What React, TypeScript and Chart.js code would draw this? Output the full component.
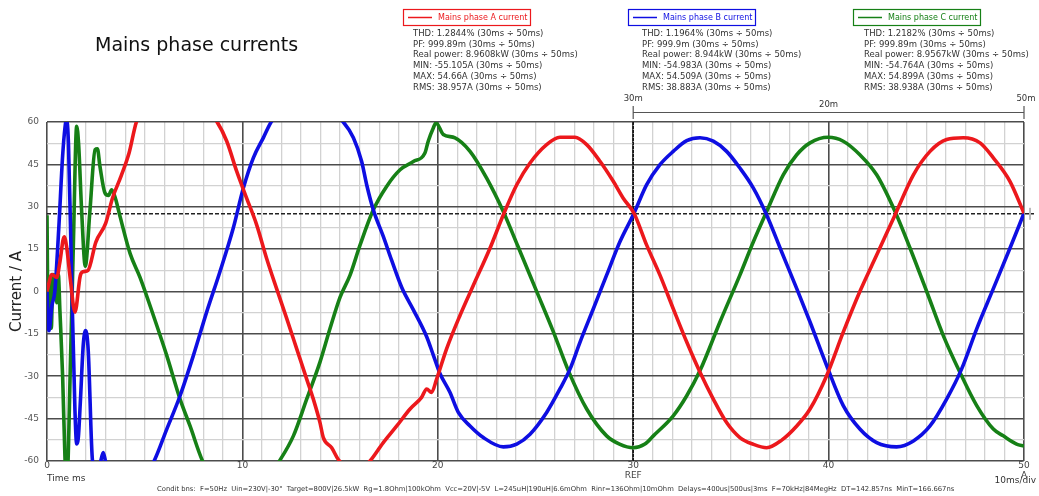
import React, { useEffect, useRef } from 'react';
import { Chart, registerables } from 'chart.js';

Chart.register(...registerables);

// Sample times (ms) and phase currents (A), phase A
const phaseATime = [0, 0.25, 0.5, 0.65, 0.88, 1.0, 1.2, 1.43, 1.7, 1.85, 2.1, 2.5, 3.0, 3.35, 3.8, 4.2, 4.59, 5.3, 6.0, 6.8, 7.6, 8.2, 8.68, 9.2, 9.71, 10.22, 10.73, 11.24, 11.75, 12.27, 12.78, 13.29, 13.63, 13.97, 14.14, 14.57, 14.9, 15.3, 15.8, 16.2, 16.53, 17.21, 17.9, 18.58, 19.17, 19.43, 19.68, 19.94, 20.45, 21.14, 21.82, 22.67, 23.35, 24.04, 24.72, 25.57, 26.25, 27.02, 27.62, 28.3, 28.98, 29.49, 30.04, 30.69, 31.37, 32.05, 32.74, 33.42, 34.1, 34.78, 35.46, 36.15, 36.83, 37.6, 38.37, 39.05, 39.9, 40.75, 41.6, 42.46, 43.4, 44.34, 45.19, 46.04, 46.89, 47.75, 48.43, 49.28, 50];
const phaseACurrent = [0, 6, 5, 10, 19.4, 16, 4, -7.3, 5.5, 7, 7.5, 17.5, 24.1, 33, 41, 49, 60.3, 66, 70, 71, 68, 64, 60.3, 53.2, 42.5, 33, 23.6, 11.7, 1, -9.6, -20.3, -31, -38.1, -46.4, -51.7, -55.3, -59.4, -62, -63, -62, -60, -53.5, -47.6, -41.6, -37.5, -34.5, -35.7, -31, -20.3, -8.4, 2.2, 15.3, 27.1, 37.8, 45.5, 52, 54.6, 54.6, 52, 46.1, 39, 33, 27.7, 16.4, 5.8, -6.1, -17.9, -28.6, -38.1, -46.4, -51.7, -54.1, -55.3, -52.6, -47.6, -41.6, -29.8, -14.4, 0, 12.9, 27.1, 41.3, 49.6, 53.8, 54.4, 52.6, 47.3, 39, 27.7];

// Phase B
const phaseBTime = [0, 0.1, 0.25, 0.4, 0.6, 0.8, 0.92, 1.0, 1.1, 1.26, 1.43, 1.52, 1.6, 1.7, 1.86, 1.98, 2.11, 2.33, 2.5, 2.71, 2.88, 3.02, 3.4, 4.2, 4.9, 5.44, 6.13, 6.81, 7.49, 8.17, 8.85, 9.53, 10.05, 10.56, 11.07, 11.5, 12.3, 13.2, 14.2, 15.16, 15.68, 16.1, 16.36, 16.7, 17.21, 17.64, 18.15, 18.75, 19.43, 19.77, 20.11, 20.62, 21.05, 21.65, 22.33, 23.35, 24.04, 24.72, 25.57, 26.25, 26.77, 27.28, 27.96, 28.64, 29.32, 30.04, 30.69, 31.37, 32.05, 32.74, 33.42, 34.1, 34.78, 35.46, 36.15, 36.83, 37.6, 38.37, 39.05, 39.9, 40.75, 41.6, 42.46, 43.48, 44.34, 45.19, 46.04, 46.81, 47.58, 48.43, 49.28, 50];
const phaseBCurrent = [0, -13.9, -5, 0, 22, 48, 58, 61, 52, 5, -42, -54, -52, -40, -18.5, -13.8, -20.9, -60, -63, -61, -57, -61, -67, -70, -66, -60.6, -48.7, -36.9, -22.7, -7.3, 7, 22.4, 36.6, 47.3, 54.4, 60.3, 65, 67, 65, 60, 54.4, 46.1, 37.8, 28.9, 19.5, 11, 1.5, -6.5, -16, -22.5, -29, -35.7, -42.8, -47.6, -51.7, -55, -54, -50.5, -42.8, -34.5, -27.4, -17.9, -6.1, 5.8, 17.6, 27.7, 37.8, 44.9, 49.6, 53.4, 54.4, 53.2, 49.6, 43.7, 36.6, 27.1, 14, 1, -10.8, -26.2, -40.4, -48.7, -53.5, -55, -52.9, -47.6, -38.1, -27.4, -13.2, 1, 15.3, 27.7];

// Phase C
const phaseCTime = [0, 0.06, 0.14, 0.22, 0.3, 0.42, 0.5, 0.58, 0.66, 0.8, 0.92, 1.02, 1.2, 1.35, 1.52, 1.62, 1.77, 1.96, 2.2, 2.46, 2.58, 2.71, 2.97, 3.15, 3.31, 3.5, 3.74, 4.25, 4.76, 5.44, 6.13, 6.81, 7.32, 8.0, 8.8, 9.8, 10.8, 11.4, 11.84, 12.61, 13.29, 13.97, 14.48, 15.0, 15.51, 16.02, 16.7, 17.38, 18.07, 18.75, 19.34, 19.51, 19.77, 19.91, 20.28, 20.88, 21.65, 22.5, 23.35, 24.1, 25.0, 25.9, 26.68, 27.62, 28.64, 29.3, 30.0, 30.6, 31.03, 32.05, 32.74, 33.42, 34.44, 35.46, 36.15, 36.83, 37.68, 38.37, 39.05, 39.98, 40.75, 41.6, 42.46, 43.4, 44.17, 45.02, 45.87, 46.72, 47.58, 48.43, 48.94, 49.62, 50];
const phaseCCurrent = [27, -13, 5, -13, 6, 5, -4, 6, -6.7, -30, -58.8, -67, -25, 17, 58.5, 52, 28.9, 9, 28.9, 50.2, 50.5, 44.3, 34.8, 34, 36, 33, 26.5, 13.5, 5, -8.4, -22.7, -38.1, -47.6, -60.6, -68, -72, -70, -65, -60.6, -51.1, -38.1, -25, -13.2, -2, 5.8, 16.4, 28.9, 37.2, 43.1, 46, 49, 53.2, 57.9, 59.7, 55.6, 54.4, 49.6, 40.1, 28.3, 16, 1, -14, -28, -41.6, -51.1, -54, -55.3, -54, -51.1, -44, -36.9, -28, -10.8, 5.8, 17.6, 28.3, 41.3, 48.4, 52.6, 54.6, 53.2, 48.4, 41.3, 28.3, 15.3, 0, -15.6, -28.6, -40.4, -48.7, -51.1, -54, -54.7];

const seriesLabels = ['Mains phase A current', 'Mains phase B current', 'Mains phase C current'];
const seriesColors = ['rgb(236,24,28)', 'rgb(14,14,226)', 'rgb(22,128,22)'];

// Measurements over the 30 ms ÷ 50 ms cursor window
const statsA = ['THD: 1.2844% (30ms ÷ 50ms)', 'PF: 999.89m (30ms ÷ 50ms)', 'Real power: 8.9608kW (30ms ÷ 50ms)', 'MIN: -55.105A (30ms ÷ 50ms)', 'MAX: 54.66A (30ms ÷ 50ms)', 'RMS: 38.957A (30ms ÷ 50ms)'];
const statsB = ['THD: 1.1964% (30ms ÷ 50ms)', 'PF: 999.9m (30ms ÷ 50ms)', 'Real power: 8.944kW (30ms ÷ 50ms)', 'MIN: -54.983A (30ms ÷ 50ms)', 'MAX: 54.509A (30ms ÷ 50ms)', 'RMS: 38.883A (30ms ÷ 50ms)'];
const statsC = ['THD: 1.2182% (30ms ÷ 50ms)', 'PF: 999.89m (30ms ÷ 50ms)', 'Real power: 8.9567kW (30ms ÷ 50ms)', 'MIN: -54.764A (30ms ÷ 50ms)', 'MAX: 54.899A (30ms ÷ 50ms)', 'RMS: 38.938A (30ms ÷ 50ms)'];

const refLevel = 27.5;
const cursorStart = 30;
const cursorEnd = 50;
const cursorLabels = ['30m', '20m', '50m'];
const xTickExtra: Record<number, string> = { 30: 'REF', 50: 'A' };

const titleText = 'Mains phase currents';
const yTitle = 'Current / A';
const timeLabel = 'Time ms';
const divLabel = '10ms/div';
const conditionsText = 'Condit bns:  F=50Hz  Uin=230V|-30°  Target=800V|26.5kW  Rg=1.8Ohm|100kOhm  Vcc=20V|-5V  L=245uH|190uH|6.6mOhm  Rinr=136Ohm|10mOhm  Delays=400us|500us|3ms  F=70kHz|84MegHz  DT=142.857ns  MinT=166.667ns';

const FONT = "'DejaVu Sans', Verdana, sans-serif";
const MAJOR = '#4c4c4c';
const MINOR = '#d2d2d2';

const legendBoxes = [
  { left: 403, statsX: 413, stats: statsA },
  { left: 628, statsX: 642, stats: statsB },
  { left: 853, statsX: 864, stats: statsC },
];

const overlayPlugin = {
  id: 'scopeOverlay',
  beforeDatasetsDraw(chart: any) {
    const { ctx, chartArea, scales } = chart;
    const y = scales.y.getPixelForValue(refLevel);
    ctx.save();
    // reference level
    ctx.strokeStyle = '#222';
    ctx.lineWidth = 1.5;
    ctx.setLineDash([4, 2]);
    ctx.beginPath();
    ctx.moveTo(chartArea.left, y);
    ctx.lineTo(chartArea.right + 10, y);
    ctx.stroke();
    // REF cursor
    const xr = scales.x.getPixelForValue(cursorStart);
    ctx.setLineDash([3, 1]);
    ctx.lineWidth = 1.5;
    ctx.strokeStyle = '#111';
    ctx.beginPath();
    ctx.moveTo(xr, chartArea.top);
    ctx.lineTo(xr, chartArea.bottom);
    ctx.stroke();
    ctx.restore();
  },
  afterDraw(chart: any) {
    const { ctx, scales, chartArea } = chart;
    ctx.save();
    // title
    ctx.fillStyle = '#111';
    ctx.font = `19px ${FONT}`;
    ctx.textAlign = 'left';
    ctx.textBaseline = 'middle';
    ctx.fillText(titleText, 95, 46);

    // legend boxes with measurements
    legendBoxes.forEach((b, i) => {
      const color = seriesColors[i];
      ctx.strokeStyle = color;
      ctx.lineWidth = 1.2;
      ctx.strokeRect(b.left + 0.5, 9.5, 127, 16);
      ctx.lineWidth = 1.5;
      ctx.beginPath();
      ctx.moveTo(b.left + 5, 17.5);
      ctx.lineTo(b.left + 29, 17.5);
      ctx.stroke();
      ctx.fillStyle = color;
      ctx.font = `8px ${FONT}`;
      ctx.textBaseline = 'middle';
      ctx.fillText(seriesLabels[i], b.left + 35, 17.5);
      ctx.fillStyle = '#333';
      ctx.font = `8.5px ${FONT}`;
      b.stats.forEach((s, k) => ctx.fillText(s, b.statsX, 33.5 + k * 10.8));
    });

    // cursor span scale
    const x0 = scales.x.getPixelForValue(cursorStart);
    const x1 = scales.x.getPixelForValue(cursorEnd);
    ctx.strokeStyle = '#555';
    ctx.lineWidth = 1.2;
    ctx.beginPath();
    ctx.moveTo(x0, 112.5);
    ctx.lineTo(x1, 112.5);
    ctx.moveTo(x0, 106);
    ctx.lineTo(x0, 119);
    ctx.moveTo(x1, 106);
    ctx.lineTo(x1, 119);
    ctx.stroke();
    ctx.fillStyle = '#333';
    ctx.font = `8.5px ${FONT}`;
    ctx.textAlign = 'center';
    ctx.fillText(cursorLabels[0], x0, 99);
    ctx.fillText(cursorLabels[1], (x0 + x1) / 2, 105);
    ctx.fillText(cursorLabels[2], x1 + 2, 99);

    // reference marker to the right of the plot
    ctx.strokeStyle = '#777';
    ctx.lineWidth = 1;
    ctx.beginPath();
    const yr = scales.y.getPixelForValue(refLevel);
    ctx.moveTo(chartArea.right + 6, yr - 6);
    ctx.lineTo(chartArea.right + 6, yr + 6);
    ctx.stroke();

    // bottom annotations
    ctx.fillStyle = '#333';
    ctx.textAlign = 'left';
    ctx.font = `9px ${FONT}`;
    ctx.fillText(timeLabel, 47, 479);
    ctx.textAlign = 'right';
    ctx.fillText(divLabel, 1036, 481);
    ctx.textAlign = 'left';
    ctx.font = `6.8px ${FONT}`;
    ctx.fillText(conditionsText, 157, 489);
    ctx.restore();
  },
};

export default function App() {
  const canvasRef = useRef<HTMLCanvasElement | null>(null);

  useEffect(() => {
    const canvas = canvasRef.current;
    if (!canvas) return;
    const mk = (t: number[], v: number[]) => t.map((x, i) => ({ x, y: v[i] }));
    const series = [mk(phaseATime, phaseACurrent), mk(phaseBTime, phaseBCurrent), mk(phaseCTime, phaseCCurrent)];
    const chart = new Chart(canvas, {
      type: 'line',
      data: {
        datasets: series.map((data, i) => ({
          label: seriesLabels[i],
          data,
          borderColor: seriesColors[i],
          backgroundColor: seriesColors[i],
          borderWidth: 3.6,
          pointRadius: 0,
          cubicInterpolationMode: 'monotone' as const,
          fill: false,
        })),
      },
      options: {
        responsive: false,
        animation: false,
        devicePixelRatio: 1,
        layout: { padding: { top: 122, left: 0, right: 15, bottom: 0 } },
        plugins: { legend: { display: false }, tooltip: { enabled: false }, title: { display: false } },
        scales: {
          x: {
            type: 'linear',
            min: 0,
            max: 50,
            afterFit: (s: any) => { s.height = 35; },
            border: { display: false },
            grid: {
              drawTicks: false,
              color: (c: any) => (c.tick && c.tick.value % 10 === 0 ? MAJOR : MINOR),
              lineWidth: (c: any) => (c.tick && c.tick.value % 10 === 0 ? 1.6 : 1.3),
            },
            ticks: {
              stepSize: 1,
              autoSkip: false,
              maxRotation: 0,
              padding: 0,
              color: '#444',
              font: { family: FONT, size: 9, lineHeight: 1.05 },
              callback: (value: any) => {
                const v = Number(value);
                if (v % 10 !== 0) return '';
                return xTickExtra[v] ? [String(v), xTickExtra[v]] : String(v);
              },
            },
          },
          y: {
            type: 'linear',
            min: -60,
            max: 60,
            afterFit: (s: any) => { s.width = 47; },
            border: { display: false },
            grid: {
              drawTicks: false,
              color: (c: any) => (c.tick && Math.abs(c.tick.value % 15) < 1e-6 ? MAJOR : MINOR),
              lineWidth: (c: any) => (c.tick && Math.abs(c.tick.value % 15) < 1e-6 ? 1.6 : 1.3),
            },
            title: {
              display: true,
              text: yTitle,
              color: '#222',
              font: { family: FONT, size: 15 },
              padding: { top: 8, bottom: 0 },
            },
            ticks: {
              stepSize: 7.5,
              autoSkip: false,
              padding: 8,
              color: '#555',
              font: { family: FONT, size: 9 },
              callback: (value: any) => {
                const v = Number(value);
                return Math.abs(v % 15) < 1e-6 ? String(v) : '';
              },
            },
          },
        },
      },
      plugins: [overlayPlugin],
    });
    return () => chart.destroy();
  }, []);

  return (
    <div style={{ position: 'absolute', left: 0, top: 0, width: 1039, height: 496, background: '#fff' }}>
      <canvas ref={canvasRef} width={1039} height={496} />
    </div>
  );
}
